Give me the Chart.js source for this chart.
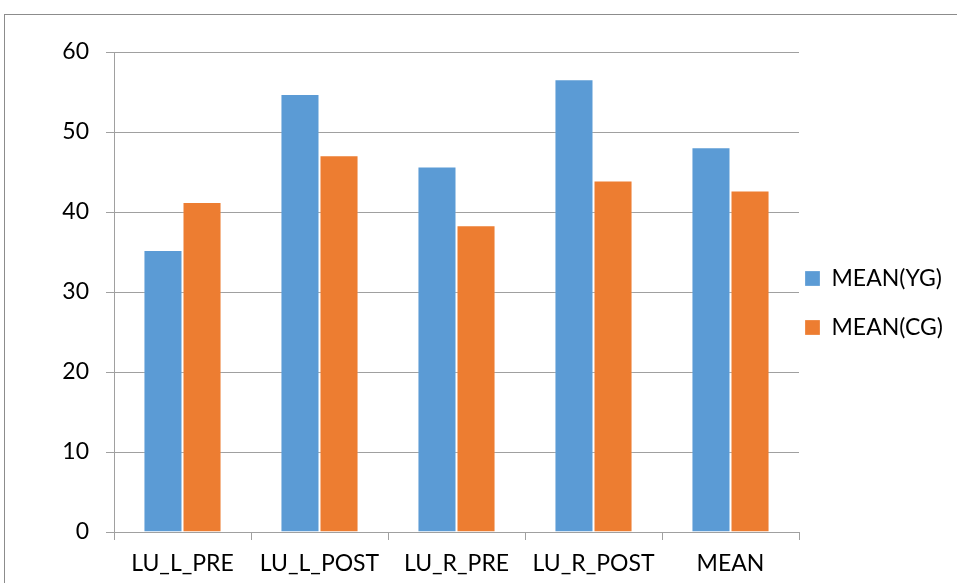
<!DOCTYPE html>
<html>
<head>
<meta charset="utf-8">
<script src="https://cdn.jsdelivr.net/npm/chart.js@4/dist/chart.umd.min.js"></script>
<style>
  html, body { margin: 0; padding: 0; background: #fff; overflow: hidden; }
  #wrap { position: relative; width: 957px; height: 583px; }
  #frame { position: absolute; left: 4px; top: 14px; width: 1200px; height: 1000px;
           border-top: 1px solid #8c8c8c; border-left: 1px solid #8c8c8c; pointer-events: none; }
</style>
</head>
<body>
<div id="wrap">
  <canvas id="c" width="957" height="583"></canvas>
  <div id="frame"></div>
</div>
<script>
const categories = ["LU_L_PRE", "LU_L_POST", "LU_R_PRE", "LU_R_POST", "MEAN"];
const seriesNames = ["MEAN(YG)", "MEAN(CG)"];
const meanYG = [35.25, 54.75, 45.7, 56.6, 48.1];
const meanCG = [41.25, 47.1, 38.35, 43.95, 42.7];
const yTicks = [0, 10, 20, 30, 40, 50, 60];

const FONT = "Lato, 'Open Sans', sans-serif";
const GRID = '#a0a0a0';

const legendPlace = {
  id: 'legendPlace',
  afterLayout(chart) {
    const lg = chart.legend;
    if (!lg) return;
    const pad = lg.options.labels.padding;
    lg.left = 805 - pad;
    lg.top = 267 - pad;
  }
};

new Chart(document.getElementById('c'), {
  type: 'bar',
  data: {
    labels: categories,
    datasets: [
      { label: seriesNames[0], data: meanYG, backgroundColor: '#5b9bd5',
        borderColor: 'rgba(255,255,255,0.25)', borderWidth: 1 },
      { label: seriesNames[1], data: meanCG, backgroundColor: '#ed7d31',
        borderColor: 'rgba(255,255,255,0.25)', borderWidth: 1 }
    ]
  },
  options: {
    responsive: false,
    animation: false,
    devicePixelRatio: 1,
    layout: { padding: { top: 52, left: 0, right: 0, bottom: 0 } },
    datasets: { bar: { barPercentage: 1.0, categoryPercentage: 0.57 } },
    plugins: {
      legend: {
        position: 'right',
        align: 'start',
        maxWidth: 158,
        labels: {
          boxWidth: 15, boxHeight: 15, padding: 26,
          color: '#000',
          font: { family: FONT, size: 23 }
        }
      },
      tooltip: { enabled: false }
    },
    scales: {
      x: {
        offset: true,
        grid: { display: true, offset: true, drawOnChartArea: false, drawTicks: true,
                tickLength: 8, color: GRID, lineWidth: 1 },
        border: { display: true, color: GRID, width: 1 },
        ticks: { color: '#000', font: { family: FONT, size: 23 }, padding: 10, maxRotation: 0 },
        afterFit(scale) { scale.height = 51; }
      },
      y: {
        min: 0, max: 60,
        afterBuildTicks(scale) { scale.ticks = yTicks.map(v => ({ value: v })); },
        grid: { color: GRID, lineWidth: 1, tickLength: 8, drawTicks: true },
        border: { display: true, color: GRID, width: 1 },
        ticks: { color: '#000', font: { family: FONT, size: 23 }, padding: 17 },
        afterFit(scale) { scale.width = 114; }
      }
    }
  },
  plugins: [legendPlace]
});
</script>
</body>
</html>
